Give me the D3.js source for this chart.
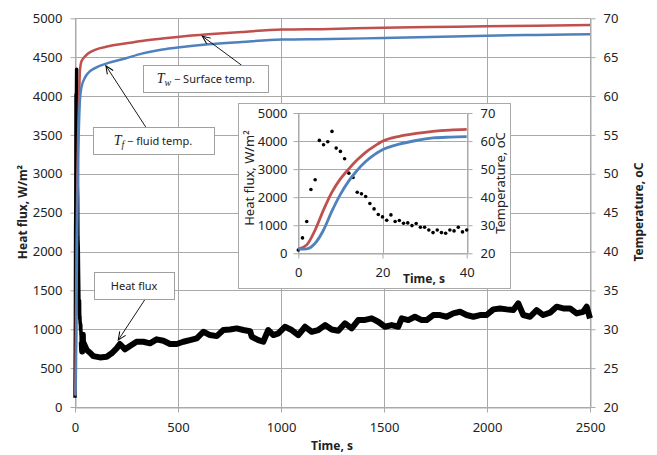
<!DOCTYPE html>
<html>
<head>
<meta charset="utf-8">
<script src="https://cdn.jsdelivr.net/npm/d3@7"></script>
<style>
  body { margin: 0; background: #fff; }
  text { font-family: "Noto Sans", sans-serif; fill: #222; }
</style>
</head>
<body>
<svg id="chart" width="657" height="455"></svg>
<script>
// first 40 s, heat flux every second (also the dots of the inset)
const earlyFluxTime = [0,1,2,3,4,5,6,7,8,9,10,11,12,13,14,15,16,17,18,19,20,
                       21,22,23,24,25,26,27,28,29,30,31,32,33,34,35,36,37,38,39,40];
const earlyFlux = [119,548,1131,2274,2619,4024,3869,3976,4345,3750,3631,3369,2857,2702,2178,2119,2024,1774,1583,1381,1298,
                   1179,1369,1131,1167,1071,1083,988,1060,929,929,833,738,833,738,714,833,798,929,762,833];

// rest of the run
const lateFluxTime = [57,73,89,121,154,178,202,218,243,267,299,332,364,396,429,461,494,526,558,591,623,655,688,720,752,785,817,
                      850,858,890,914,938,963,987,1019,1052,1084,1117,1149,1181,1214,1246,1278,1311,1343,1375,1408,1440,1472,
                      1505,1537,1569,1586,1618,1650,1683,1707,1739,1772,1804,1836,1869,1901,1934,1966,1998,2031,2063,2096,2128,
                      2152,2176,2209,2241,2273,2306,2338,2370,2403,2435,2467,2484,2500];
const lateFlux = [733,698,655,638,647,690,754,810,742,784,839,839,819,870,852,810,810,839,861,883,968,925,912,990,997,1011,990,
                  975,904,861,839,990,925,947,1032,990,925,1032,968,990,1054,997,980,1076,1011,1118,1120,1140,1097,
                  1032,1054,1032,1140,1118,1161,1118,1118,1183,1183,1161,1204,1225,1183,1161,1183,1183,1256,1268,1256,1247,
                  1333,1183,1161,1247,1183,1213,1290,1268,1268,1204,1225,1290,1140];

// temperatures, oC - start-up (inset)
const earlyTempTime = [0,2,4,6,8,10,12,14,16,18,20,24,28,32,36,40];
const earlyTw = [21.5,23.0,28.3,35.5,41.8,46.5,50.1,53.3,56.0,58.1,59.9,61.7,62.7,63.45,63.9,64.15];
const earlyTf = [21.5,21.6,23.6,28.3,35.1,41.0,45.8,49.6,52.7,55.1,56.9,58.9,60.2,61.1,61.4,61.55];

// temperatures, oC - main plot after the start-up
const lateTempTime = [24,32,49,65,97,162,243,324,404,498,647,809,1003,1238,1495,1723,1998,2241,2500];
const lateTw = [63.3,64.5,65.1,65.5,65.95,66.4,66.75,67.08,67.34,67.6,67.94,68.24,68.55,68.62,68.8,68.87,68.97,69.03,69.14];
const lateTf = [59.5,61.2,62.4,63.0,63.6,64.26,64.82,65.46,65.89,66.23,66.66,66.96,67.26,67.33,67.47,67.6,67.77,67.86,67.94];

// ticks
const timeTicks = [0,500,1000,1500,2000,2500];
const fluxTicks = [0,500,1000,1500,2000,2500,3000,3500,4000,4500,5000];
const tempTicks = [20,25,30,35,40,45,50,55,60,65,70];
const insetTimeTicks = [0,20,40];
const insetFluxTicks = [0,1000,2000,3000,4000,5000];
const insetTempTicks = [20,30,40,50,60,70];

const gridColor = "#a9a9a9",
      twColor = "#c0504d",
      tfColor = "#4f81bd";

const svg = d3.select("#chart");
svg.append("rect").attr("width", 657).attr("height", 455).attr("fill", "#fff");

const zip = (ts, vs) => ts.map((t, i) => ({t: t, v: vs[i]}));
const startTw = zip(earlyTempTime, earlyTw).filter(d => d.t <= 20);
const startTf = zip(earlyTempTime, earlyTf).filter(d => d.t <= 20);
const twData = startTw.concat(zip(lateTempTime, lateTw));
const tfData = startTf.concat(zip(lateTempTime, lateTf));

// ---------- main plot ----------
const x = d3.scaleLinear().domain([0, 2500]).range([75, 590]);
const y = d3.scaleLinear().domain([0, 5000]).range([407, 18.3]);
const yT = d3.scaleLinear().domain([20, 70]).range([407, 18.3]);

const grid = svg.append("g").attr("stroke", gridColor).attr("stroke-width", 1);
fluxTicks.forEach(function (v) {
    grid.append("line").attr("x1", 75).attr("x2", 590)
        .attr("y1", Math.round(y(v)) + 0.5).attr("y2", Math.round(y(v)) + 0.5);
});
timeTicks.forEach(function (t) {
    grid.append("line").attr("x1", Math.round(x(t)) + 0.5).attr("x2", Math.round(x(t)) + 0.5)
        .attr("y1", y(5000)).attr("y2", 407);
});

function styleAxis(g) {
    g.selectAll(".domain").attr("stroke", gridColor);
    g.selectAll(".tick line").attr("stroke", gridColor);
    g.selectAll(".tick text").style("font-size", "13px").style("font-family", "Noto Sans").attr("fill", "#222");
}

svg.append("g").attr("transform", "translate(75.5,0)")
    .call(d3.axisLeft(y).tickValues(fluxTicks).tickFormat(d3.format("d")).tickSize(5).tickSizeOuter(0).tickPadding(8))
    .call(styleAxis);
svg.append("g").attr("transform", "translate(590.5,0)")
    .call(d3.axisRight(yT).tickValues(tempTicks).tickFormat(d3.format("d")).tickSize(5).tickSizeOuter(0).tickPadding(8))
    .call(styleAxis);
svg.append("g").attr("transform", "translate(0,407.5)")
    .call(d3.axisBottom(x).tickValues(timeTicks).tickFormat(d3.format("d")).tickSize(5).tickSizeOuter(0).tickPadding(10))
    .call(styleAxis);

svg.append("text").attr("transform", "translate(27,212) rotate(-90)")
    .attr("text-anchor", "middle").style("font-size", "12px").style("font-weight", "bold")
    .text("Heat flux, W/m²");
svg.append("text").attr("transform", "translate(643,212) rotate(-90)")
    .attr("text-anchor", "middle").style("font-size", "12px").style("font-weight", "bold")
    .text("Temperature, oC");
svg.append("text").attr("x", 332).attr("y", 450)
    .attr("text-anchor", "middle").style("font-size", "12px").style("font-weight", "bold")
    .text("Time, s");

const fluxLine = d3.line().x(d => x(d.t)).y(d => y(d.v));
// start-up spike drawn thinner, the noisy remainder as a thick band
svg.append("path").datum(zip(earlyFluxTime, earlyFlux).concat(zip(lateFluxTime.slice(0, 1), lateFlux.slice(0, 1))))
    .attr("fill", "none").attr("stroke", "#000").attr("stroke-width", 3.5)
    .attr("stroke-linejoin", "round").attr("d", fluxLine);
svg.append("path").datum(zip(earlyFluxTime.slice(-8), earlyFlux.slice(-8)).concat(zip(lateFluxTime, lateFlux)))
    .attr("fill", "none").attr("stroke", "#000").attr("stroke-width", 6)
    .attr("stroke-linejoin", "round").attr("d", fluxLine);

const tempLine = d3.line().curve(d3.curveMonotoneX).x(d => x(d.t)).y(d => yT(d.v));
svg.append("path").datum(twData).attr("fill", "none").attr("stroke", twColor).attr("stroke-width", 2.5).attr("d", tempLine);
svg.append("path").datum(tfData).attr("fill", "none").attr("stroke", tfColor).attr("stroke-width", 2.5).attr("d", tempLine);

// ---------- callouts ----------
svg.append("defs").append("marker")
    .attr("id", "arrow").attr("viewBox", "-10 -5 12 10")
    .attr("refX", 0).attr("refY", 0)
    .attr("markerWidth", 12).attr("markerHeight", 10)
    .attr("markerUnits", "userSpaceOnUse")
    .attr("orient", "auto")
    .append("path").attr("d", "M-8,-3.5 L0,0 L-8,3.5")
    .attr("fill", "none").attr("stroke", "#000").attr("stroke-width", 1);

const callouts = [
    {id: "tw", box: [332, 938, 4396, 4053], from: [809, 4396], tip: [618, 67.7], temp: true},
    {id: "tf", box: [86, 671, 3603, 3261], from: [343, 3603], tip: [150, 63.9], temp: true},
    {id: "hf", box: [92, 482, 1739, 1397], from: [343, 1397], tip: [210, 861], temp: false}
];

callouts.forEach(function (c) {
    const x0 = x(c.box[0]), x1 = x(c.box[1]), y0 = y(c.box[2]), y1 = y(c.box[3]);
    svg.append("line")
        .attr("x1", x(c.from[0])).attr("y1", y(c.from[1]))
        .attr("x2", x(c.tip[0])).attr("y2", c.temp ? yT(c.tip[1]) : y(c.tip[1]))
        .attr("stroke", "#000").attr("stroke-width", 0.9)
        .attr("marker-end", "url(#arrow)");
    svg.append("rect")
        .attr("x", Math.round(x0) + 0.5).attr("y", Math.round(y0) + 0.5)
        .attr("width", Math.round(x1 - x0)).attr("height", Math.round(y1 - y0))
        .attr("fill", "#fff").attr("stroke", "#a0a0a0").attr("stroke-width", 1);

    const label = svg.append("text")
        .attr("x", (x0 + x1) / 2).attr("y", (y0 + y1) / 2 + 4.5)
        .attr("text-anchor", "middle").style("font-size", "11px");
    if (c.id === "hf") {
        label.text("Heat flux");
    } else {
        label.append("tspan").style("font-family", "Liberation Serif").style("font-style", "italic")
            .style("font-size", "14px").text("T");
        label.append("tspan").style("font-family", "Liberation Serif").style("font-style", "italic")
            .style("font-size", "10px").attr("dy", 3).text(c.id === "tw" ? "w" : "f");
        label.append("tspan").attr("dy", -3)
            .text(c.id === "tw" ? " − Surface temp." : " − fluid temp.");
    }
});

// ---------- inset ----------
const inset = svg.append("g");
inset.append("rect").attr("x", 238.5).attr("y", 103.5).attr("width", 272).attr("height", 185)
    .attr("fill", "#fff").attr("stroke", gridColor);

const ix = d3.scaleLinear().domain([0, 40]).range([298.3, 466.7]);
const iy = d3.scaleLinear().domain([0, 5000]).range([253.3, 113]);
const iyT = d3.scaleLinear().domain([20, 70]).range([253.3, 113]);

insetFluxTicks.forEach(function (v) {
    inset.append("line").attr("x1", ix(0)).attr("x2", ix(40))
        .attr("y1", Math.round(iy(v)) + 0.5).attr("y2", Math.round(iy(v)) + 0.5)
        .attr("stroke", gridColor);
});
insetTimeTicks.forEach(function (t) {
    inset.append("line").attr("x1", Math.round(ix(t)) + 0.5).attr("x2", Math.round(ix(t)) + 0.5)
        .attr("y1", iy(5000)).attr("y2", iy(0)).attr("stroke", gridColor);
});

inset.append("g").attr("transform", "translate(" + (Math.round(ix(0)) + 0.5) + ",0)")
    .call(d3.axisLeft(iy).tickValues(insetFluxTicks).tickFormat(d3.format("d")).tickSize(5).tickSizeOuter(0).tickPadding(6))
    .call(styleAxis);
inset.append("g").attr("transform", "translate(" + (Math.round(ix(40)) + 0.5) + ",0)")
    .call(d3.axisRight(iyT).tickValues(insetTempTicks).tickFormat(d3.format("d")).tickSize(5).tickSizeOuter(0).tickPadding(8))
    .call(styleAxis);
inset.append("g").attr("transform", "translate(0," + (Math.round(iy(0)) + 0.5) + ")")
    .call(d3.axisBottom(ix).tickValues(insetTimeTicks).tickFormat(d3.format("d")).tickSize(5).tickSizeOuter(0).tickPadding(9))
    .call(styleAxis);

inset.append("text").attr("transform", "translate(254,178) rotate(-90)")
    .attr("text-anchor", "middle").style("font-size", "13px")
    .text("Heat flux, W/m²");
inset.append("text").attr("transform", "translate(505,183) rotate(-90)")
    .attr("text-anchor", "middle").style("font-size", "13px")
    .text("Temperature, oC");
inset.append("text").attr("x", 424).attr("y", 283)
    .attr("text-anchor", "middle").style("font-size", "12px").style("font-weight", "bold")
    .text("Time, s");

inset.selectAll("circle.dot").data(zip(earlyFluxTime, earlyFlux)).enter()
    .append("circle").attr("class", "dot")
    .attr("cx", d => ix(d.t)).attr("cy", d => iy(d.v)).attr("r", 1.8).attr("fill", "#000");

const insetLine = d3.line().curve(d3.curveMonotoneX).x(d => ix(d.t)).y(d => iyT(d.v));
inset.append("path").datum(zip(earlyTempTime, earlyTw))
    .attr("fill", "none").attr("stroke", twColor).attr("stroke-width", 2.8).attr("d", insetLine);
inset.append("path").datum(zip(earlyTempTime, earlyTf))
    .attr("fill", "none").attr("stroke", tfColor).attr("stroke-width", 2.8).attr("d", insetLine);
</script>
</body>
</html>
